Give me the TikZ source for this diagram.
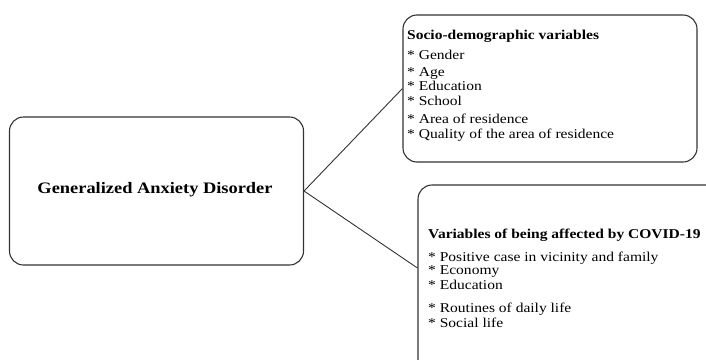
\documentclass[tikz,border=0pt]{standalone}
\usepackage{fontspec}
\setmainfont{Liberation Serif}[FakeStretch=1.15]
\begin{document}
\begin{tikzpicture}[x=1pt,y=-1pt,
  box/.style={draw=black!80,line width=1.1pt,rounded corners=14pt,inner sep=0pt},
  txt/.style={align=left,inner sep=0pt,anchor=north west,font=\fontsize{13.5}{15.5}\selectfont},
  link/.style={draw=black!80,line width=0.9pt}]
\useasboundingbox (0,0) rectangle (706,359);
\clip (0,0) rectangle (706,359);
\node[box,minimum width=294pt,minimum height=148pt] (gad) at (156.5,191) {};
\node[font=\fontsize{16}{18}\selectfont\bfseries] (gadt) at (155,190) {Generalized Anxiety Disorder};
\node[box,minimum width=294pt,minimum height=147pt] (soc) at (550,88.5) {};
\node[txt] (soct) at (407,29.5) {\textbf{Socio-demographic variables}\\[4.5pt]
* Gender\\[1.5pt]
* Age\\[-1.5pt]
* Education\\[-0.5pt]
* School\\[2.5pt]
* Area of residence\\[-0.5pt]
* Quality of the area of residence};
\node[box,minimum width=320pt,minimum height=200pt] (cov) at (578,285) {};
\node[txt] (covt) at (428,228.5) {\textbf{Variables of being affected by COVID-19}\\[7.5pt]
* Positive case in vicinity and family\\[-2.5pt]
* Economy\\[-0.5pt]
* Education\\[7.5pt]
* Routines of daily life\\[-0.5pt]
* Social life};
\coordinate (j) at (gad.east);
\draw[link] (j) -- (soc.west);
\draw[link] (j) -- (cov.west |- 0,268);
\end{tikzpicture}
\end{document}
